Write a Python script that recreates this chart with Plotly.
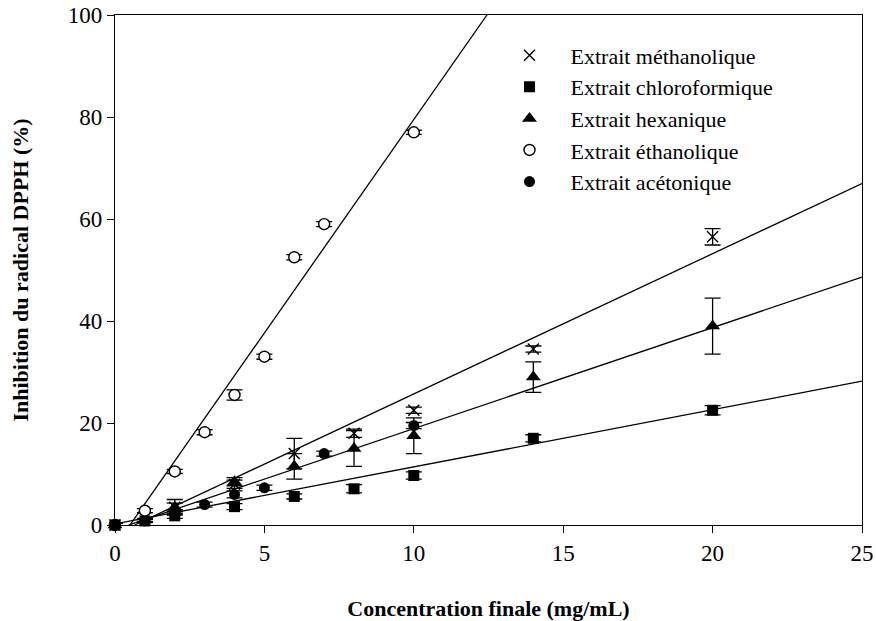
import plotly.graph_objects as go

# ---- data ----
meth_x = [0, 2, 4, 6, 8, 10, 14, 20]
meth_y = [0, 3.5, 8.0, 14.0, 18.0, 22.5, 34.5, 56.5]
meth_e = [0.3, 0.8, 0.8, 3.0, 0.8, 0.6, 0.6, 1.6]

chlo_x = [0, 1, 2, 4, 6, 8, 10, 14, 20]
chlo_y = [0, 0.8, 1.8, 3.6, 5.6, 7.1, 9.7, 17.0, 22.5]
chlo_e = [0.3, 0.3, 0.5, 0.6, 0.5, 0.8, 0.7, 0.7, 0.9]

hexa_x = [0, 1, 2, 4, 6, 8, 10, 14, 20]
hexa_y = [0, 1.0, 3.5, 8.5, 11.5, 15.0, 17.5, 29.0, 39.0]
hexa_e = [0.3, 0.3, 1.5, 0.8, 2.5, 3.5, 3.5, 3.0, 5.5]

etha_x = [0, 1, 2, 3, 4, 5, 6, 7, 10]
etha_y = [0, 2.8, 10.5, 18.2, 25.5, 33.0, 52.5, 59.0, 77.0]
etha_e = [0.3, 0.4, 0.4, 0.5, 1.0, 0.5, 0.5, 0.5, 0.4]

acet_x = [0, 1, 2, 3, 4, 5, 7, 10]
acet_y = [0, 0.8, 2.5, 4.0, 6.0, 7.3, 14.0, 19.5]
acet_e = [0.3, 0.3, 0.5, 0.5, 0.7, 0.5, 0.5, 0.6]

# linear fits (slope, intercept)
fits = {
    "etha": (8.37, -4.2),
    "meth": (2.75, -1.8),
    "hexa": (1.98, -0.9),
    "chlo": (1.12, 0.2),
}

names = ["Extrait méthanolique", "Extrait chloroformique", "Extrait hexanique",
         "Extrait éthanolique", "Extrait acétonique"]

FONT = "Liberation Serif"

fig = go.Figure()

# fit lines
for key, (a, b) in fits.items():
    x0 = max(0.0, -b / a)
    x1 = min(25.0, (100 - b) / a)
    fig.add_trace(go.Scatter(x=[x0, x1], y=[a * x0 + b, a * x1 + b], mode="lines",
                             line=dict(color="black", width=1.3), showlegend=False,
                             hoverinfo="skip"))

series = [
    (meth_x, meth_y, meth_e, dict(symbol="x-thin", size=11, color="black",
                                  line=dict(color="black", width=1.4))),
    (chlo_x, chlo_y, chlo_e, dict(symbol="square", size=11, color="black",
                                  line=dict(color="black", width=0))),
    (hexa_x, hexa_y, hexa_e, dict(symbol="triangle-up", size=13, color="black",
                                  line=dict(color="black", width=0))),
    (etha_x, etha_y, etha_e, dict(symbol="circle", size=11, color="white",
                                  line=dict(color="black", width=1.4))),
    (acet_x, acet_y, acet_e, dict(symbol="circle", size=11, color="black",
                                  line=dict(color="black", width=0))),
]

for i, ((xs, ys, es, mk), nm) in enumerate(zip(series, names)):
    fig.add_trace(go.Scatter(
        x=xs, y=ys, mode="markers", name=nm, marker=mk,
        error_y=dict(type="data", array=es, visible=True, color="black",
                     thickness=1.3, width=8),
        legendgroup=f"g{i}", cliponaxis=False,
    ))

fig.update_layout(
    width=876, height=621,
    margin=dict(l=115, r=14, t=15, b=96),
    paper_bgcolor="white", plot_bgcolor="white",
    font=dict(family=FONT, size=23, color="black"),
    showlegend=True,
    legend=dict(x=0.5, y=0.962, xanchor="left", yanchor="top",
                bgcolor="rgba(0,0,0,0)", font=dict(family=FONT, size=22),
                tracegroupgap=0, itemwidth=72),
    xaxis=dict(range=[0, 25], tickvals=[0, 5, 10, 15, 20, 25], ticks="outside",
               ticklen=7, tickwidth=1.3, tickcolor="black", automargin=False,
               showline=True, linecolor="black", linewidth=1.3, mirror=True,
               showgrid=False, zeroline=False,
               tickfont=dict(family=FONT, size=23),
               title=dict(text="<b>Concentration finale (mg/mL)</b>",
                          font=dict(family=FONT, size=22), standoff=36)),
    yaxis=dict(range=[0, 100], tickvals=[0, 20, 40, 60, 80, 100], ticks="outside",
               ticklen=7, tickwidth=1.3, tickcolor="black", automargin=False,
               showline=True, linecolor="black", linewidth=1.3, mirror=True,
               showgrid=False, zeroline=False,
               tickfont=dict(family=FONT, size=23),
               title=dict(text="<b>Inhibition du radical DPPH (%)</b>",
                          font=dict(family=FONT, size=22), standoff=33)),
)

fig.write_html("out.html")
